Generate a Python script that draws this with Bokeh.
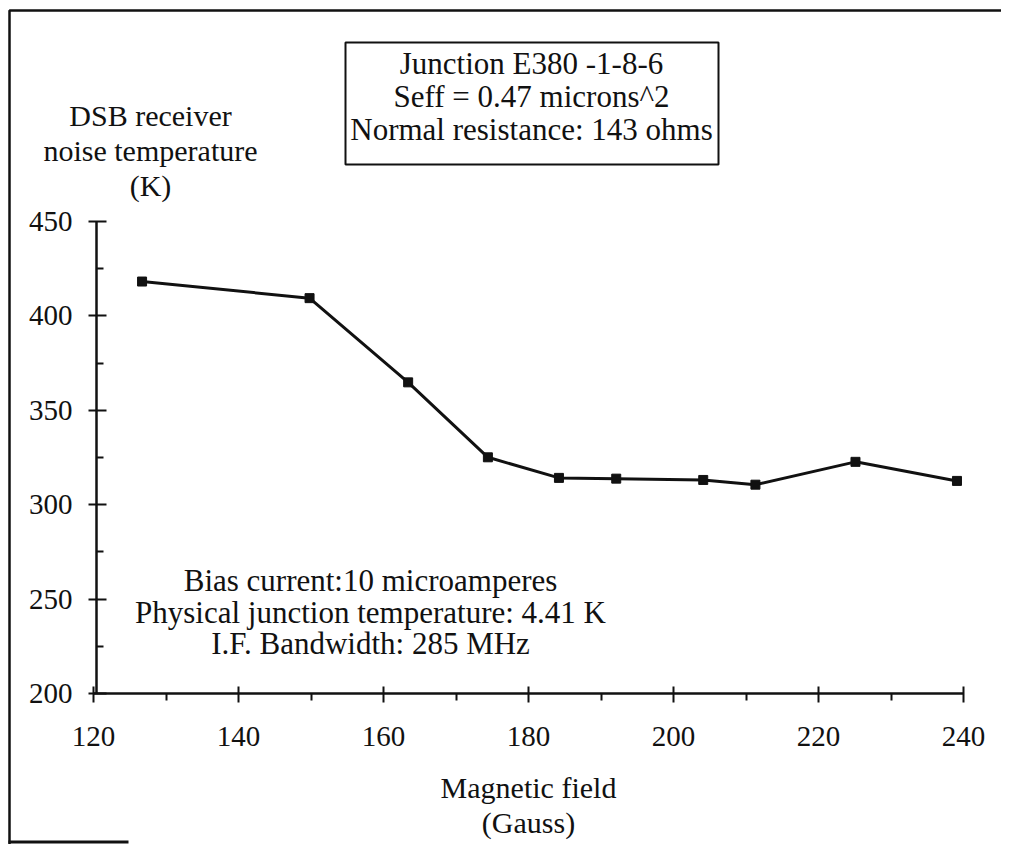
from bokeh.plotting import figure
from bokeh.models import Range1d, FixedTicker, Label, BoxAnnotation
from bokeh.embed import file_html
from bokeh.resources import INLINE

# Data
field_gauss = [126.7, 149.8, 163.4, 174.4, 184.2, 192.1, 204.1, 211.3, 225.1, 239.1]
noise_temp_k = [418.2, 409.4, 364.8, 325.1, 314.2, 313.8, 313.1, 310.6, 322.7, 312.6]

x_major = [120, 140, 160, 180, 200, 220, 240]
x_minor = [130, 150, 170, 190, 210, 230]
y_major = [200, 250, 300, 350, 400, 450]
y_minor = [225, 275, 325, 375, 425]

FONT = "Liberation Serif"
INK = "#111111"
W, H = 1001, 844

# layout geometry (pixels): axis spans
X0_PX, X1_PX = 93, 963     # x = 120 .. 240
Y0_PX, Y1_PX = 693, 221    # y = 200 .. 450
SX = (X1_PX - X0_PX) / (240 - 120)
SY = (Y0_PX - Y1_PX) / (450 - 200)

def fx(px):
    return 120 + (px - X0_PX) / SX

def fy(py):
    return 450 - (py - Y1_PX) / SY

p = figure(width=W, height=H, output_backend="svg", toolbar_location=None,
           x_range=Range1d(fx(0), fx(W)), y_range=Range1d(fy(H), fy(0)),
           min_border_left=0, min_border_right=0, min_border_top=0, min_border_bottom=0)
p.outline_line_color = None
p.xgrid.visible = False
p.ygrid.visible = False
p.background_fill_color = "white"
p.border_fill_color = "white"

# axes
p.xaxis.ticker = FixedTicker(ticks=x_major, minor_ticks=x_minor)
p.yaxis.ticker = FixedTicker(ticks=y_major, minor_ticks=y_minor)
p.xaxis.fixed_location = 200
p.yaxis.fixed_location = 120.4
p.xaxis.bounds = (120, 240)
p.yaxis.bounds = (200, 450)
for ax in (p.xaxis[0], p.yaxis[0]):
    ax.axis_line_width = 2.5
    ax.axis_line_color = INK
    ax.major_tick_line_width = 2
    ax.major_tick_line_color = INK
    ax.minor_tick_line_width = 2
    ax.minor_tick_line_color = INK
    ax.major_label_text_font = FONT
    ax.major_label_text_font_size = "29px"
    ax.major_label_text_color = INK
p.xaxis.major_tick_in = 7
p.xaxis.major_tick_out = 9
p.xaxis.minor_tick_in = 0
p.xaxis.minor_tick_out = 7
p.xaxis.major_label_standoff = 24
p.yaxis.major_tick_in = 10
p.yaxis.major_tick_out = 8
p.yaxis.minor_tick_in = 7
p.yaxis.minor_tick_out = 0
p.yaxis.major_label_standoff = 16

# outer scanned frame
p.add_layout(BoxAnnotation(left=fx(9), right=fx(W + 20), top=fy(10), bottom=fy(H + 40),
                           fill_alpha=0, line_color=INK, line_alpha=1, line_width=2.5))
p.add_layout(BoxAnnotation(left=fx(8), right=fx(128), top=fy(840), bottom=fy(843),
                           fill_color=INK, fill_alpha=1, line_alpha=0))

# data
p.line(field_gauss, noise_temp_k, line_color=INK, line_width=3)
p.scatter(field_gauss, noise_temp_k, marker="square", size=9, fill_color=INK, line_color=INK)

def lab(px, py, text, size="30px"):
    l = Label(x=fx(px), y=fy(py), text=text, text_font=FONT, text_font_size=size,
              text_color=INK, text_align="center", text_baseline="middle")
    p.add_layout(l)
    return l

# y axis title
lab(150, 115, "DSB receiver")
lab(150, 150, "noise temperature")
lab(150, 185, "(K)")

# x axis title
lab(528, 787, "Magnetic field")
lab(528, 822, "(Gauss)")

# boxed info
p.add_layout(BoxAnnotation(left=fx(345), right=fx(718), top=fy(42), bottom=fy(164),
                           fill_color="white", fill_alpha=1,
                           line_color=INK, line_alpha=1, line_width=2))
lab(531, 63, "Junction E380 -1-8-6", "31px")
lab(531, 96, "Seff = 0.47 microns^2", "31px")
lab(531, 129, "Normal resistance: 143 ohms", "31px")

# conditions
lab(370, 580, "Bias current:10 microamperes", "31px")
lab(370, 612, "Physical junction temperature: 4.41 K", "31px")
lab(370, 643, "I.F. Bandwidth: 285 MHz", "31px")

open("out.html", "w").write(file_html(p, INLINE))
